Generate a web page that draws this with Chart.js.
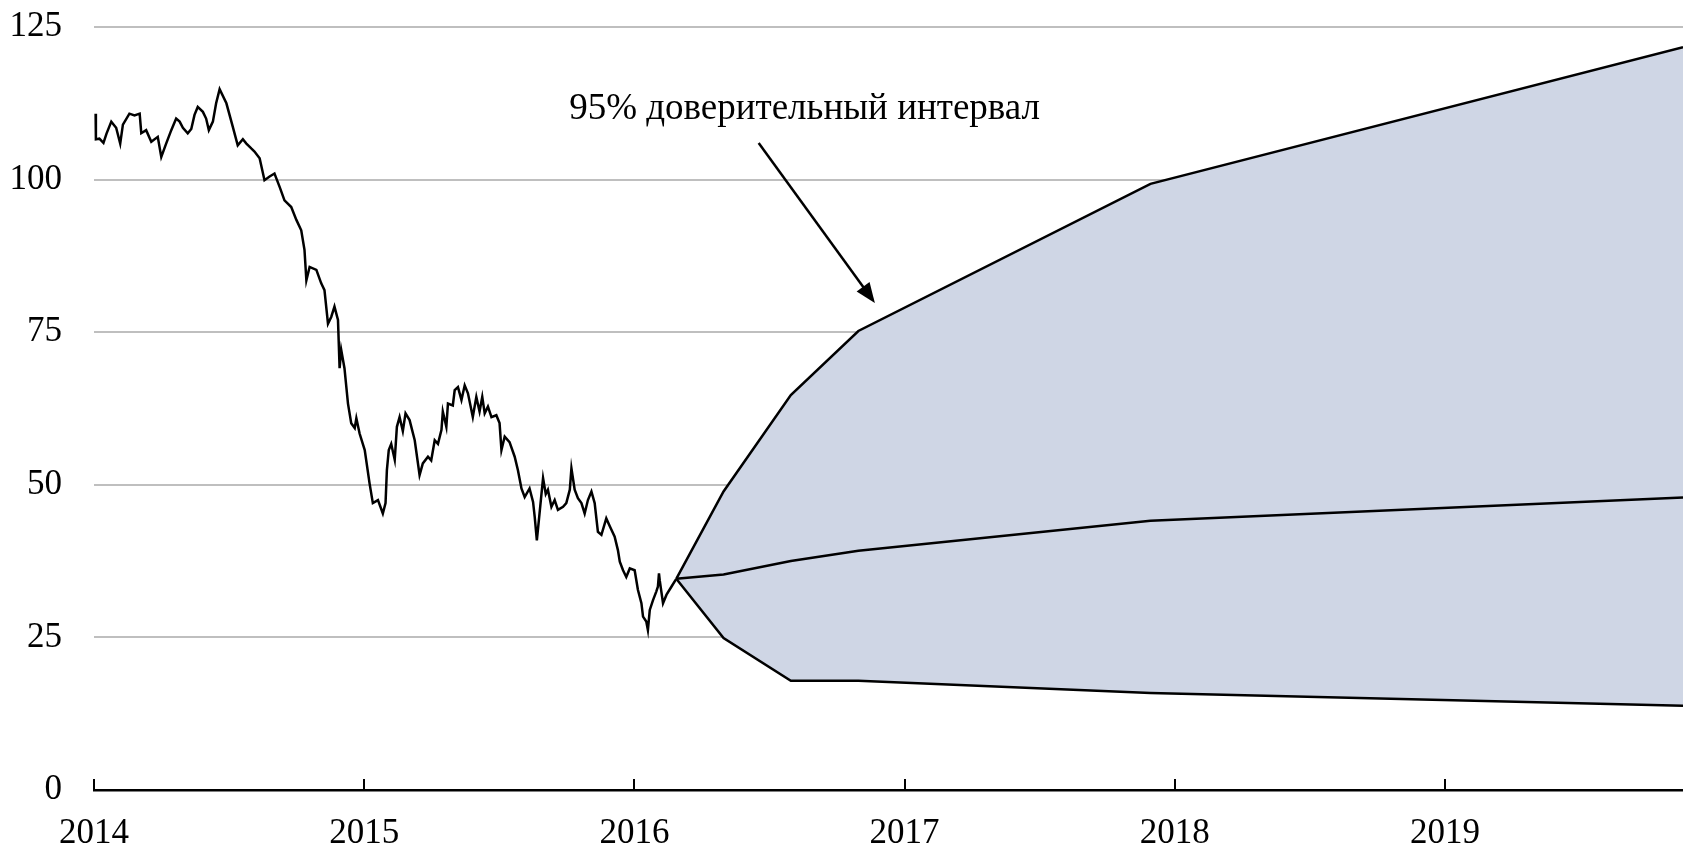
<!DOCTYPE html>
<html>
<head>
<meta charset="utf-8">
<script src="https://cdn.jsdelivr.net/npm/chart.js@4"></script>
<style>
  html, body { margin: 0; padding: 0; background: #fff; }
  #wrap { position: relative; width: 1683px; height: 849px; }
</style>
</head>
<body>
<div id="wrap"><canvas id="brent"></canvas></div>
<script>
// observed price (decimal years)
const priceYears = [
  2014.006, 2014.007, 2014.020, 2014.035, 2014.046, 2014.064, 2014.082, 2014.097, 2014.107, 2014.131,
  2014.150, 2014.169, 2014.175, 2014.193, 2014.212, 2014.236, 2014.249, 2014.267, 2014.286, 2014.304,
  2014.317, 2014.329, 2014.347, 2014.360, 2014.372, 2014.384, 2014.403, 2014.415, 2014.425, 2014.440,
  2014.452, 2014.465, 2014.490, 2014.514, 2014.532, 2014.551, 2014.564, 2014.582, 2014.594, 2014.613,
  2014.631, 2014.650, 2014.668, 2014.687, 2014.705, 2014.730, 2014.749, 2014.767, 2014.779, 2014.786,
  2014.798, 2014.823, 2014.841, 2014.853, 2014.866, 2014.878, 2014.890, 2014.903, 2014.909, 2014.915,
  2014.927, 2014.940, 2014.952, 2014.965, 2014.971, 2014.983, 2015.002, 2015.020, 2015.032, 2015.051,
  2015.069, 2015.079, 2015.084, 2015.091, 2015.100, 2015.113, 2015.121, 2015.131, 2015.143, 2015.153,
  2015.168, 2015.187, 2015.205, 2015.217, 2015.236, 2015.248, 2015.261, 2015.273, 2015.286, 2015.291,
  2015.304, 2015.310, 2015.328, 2015.335, 2015.347, 2015.360, 2015.372, 2015.384, 2015.402, 2015.415,
  2015.427, 2015.437, 2015.446, 2015.458, 2015.471, 2015.489, 2015.501, 2015.508, 2015.520, 2015.538,
  2015.557, 2015.569, 2015.582, 2015.594, 2015.612, 2015.625, 2015.631, 2015.639, 2015.649, 2015.662,
  2015.672, 2015.680, 2015.693, 2015.705, 2015.717, 2015.736, 2015.748, 2015.761, 2015.767, 2015.779,
  2015.791, 2015.804, 2015.816, 2015.828, 2015.841, 2015.853, 2015.865, 2015.878, 2015.896, 2015.909,
  2015.927, 2015.939, 2015.946, 2015.958, 2015.970, 2015.983, 2016.001, 2016.013, 2016.026, 2016.032,
  2016.044, 2016.050, 2016.057, 2016.069, 2016.081, 2016.087, 2016.091, 2016.094, 2016.106, 2016.119,
  2016.137, 2016.155,
];
const priceValues = [
  110.8, 106.6, 106.7, 106.0, 107.5, 109.5, 108.5, 105.9, 109.0, 110.8,
  110.5, 110.8, 107.6, 108.1, 106.2, 107.0, 103.7, 105.9, 108.1, 110.0,
  109.5, 108.5, 107.6, 108.3, 110.6, 111.9, 111.1, 110.0, 108.1, 109.5,
  112.5, 114.8, 112.5, 108.6, 105.6, 106.6, 105.9, 105.1, 104.6, 103.5,
  99.9, 100.5, 101.0, 98.8, 96.6, 95.5, 93.4, 91.7, 88.5, 83.5,
  85.7, 85.2, 83.0, 81.9, 76.4, 77.5, 79.2, 77.0, 69.1, 72.1,
  69.1, 63.3, 60.1, 59.3, 60.9, 58.4, 55.7, 50.2, 47.0, 47.5,
  45.3, 47.0, 52.4, 55.7, 56.7, 54.1, 59.5, 61.1, 58.8, 61.7,
  60.6, 57.3, 51.6, 53.5, 54.6, 54.0, 57.3, 56.7, 59.0, 62.0,
  59.5, 63.3, 63.0, 65.5, 66.0, 63.9, 66.3, 65.0, 61.1, 64.4,
  62.0, 64.4, 61.7, 62.8, 61.1, 61.4, 60.1, 55.7, 57.9, 57.0,
  54.6, 52.4, 49.4, 48.0, 49.4, 47.2, 44.8, 40.9, 45.3, 51.1,
  48.5, 49.2, 46.4, 47.5, 45.9, 46.4, 47.0, 49.2, 52.7, 49.2,
  47.8, 47.0, 45.3, 47.5, 48.9, 47.0, 42.3, 41.8, 44.5, 43.2,
  41.5, 39.3, 37.4, 36.0, 34.9, 36.3, 36.0, 32.8, 30.6, 28.4,
  27.6, 26.2, 29.5, 31.1, 32.5, 33.3, 35.5, 34.3, 30.6, 32.0,
  33.3, 34.6,
];

// forecast fan
const fanYears = [2016.155, 2016.330, 2016.579, 2016.829, 2017.910, 2019.881];
const fanUpper = [34.6, 48.9, 64.7, 75.2, 99.3, 121.7];
const fanMedian = [34.6, 35.3, 37.5, 39.2, 44.1, 47.9];
const fanLower = [34.6, 24.9, 17.9, 17.9, 15.9, 13.8];

const yTicks = [0, 25, 50, 75, 100, 125];
const xTicks = [2014, 2015, 2016, 2017, 2018, 2019];

// annotation, in data units
const noteText = '95% доверительный интервал';
const notePos = { x: 2016.63, y: 111.5 };
const arrowFrom = { x: 2016.46, y: 106.0 };
const arrowTo = { x: 2016.89, y: 79.8 };

const FONT = '"Liberation Serif", "DejaVu Serif", serif';

const pts = (xs, ys) => xs.map((x, i) => ({ x, y: ys[i] }));

const overlay = {
  id: 'overlay',
  afterDraw(chart) {
    const { ctx, chartArea } = chart;
    const { x, y } = chart.scales;
    ctx.save();
    // small ticks pointing up from the axis
    ctx.strokeStyle = '#000';
    ctx.lineWidth = 2;
    xTicks.forEach((v) => {
      const px = Math.round(x.getPixelForValue(v));
      ctx.beginPath();
      ctx.moveTo(px, chartArea.bottom);
      ctx.lineTo(px, chartArea.bottom - 11);
      ctx.stroke();
    });
    // label
    ctx.fillStyle = '#000';
    ctx.font = `37px ${FONT}`;
    ctx.textAlign = 'center';
    ctx.textBaseline = 'middle';
    ctx.fillText(noteText, x.getPixelForValue(notePos.x), y.getPixelForValue(notePos.y));
    // arrow
    const x0 = x.getPixelForValue(arrowFrom.x);
    const y0 = y.getPixelForValue(arrowFrom.y);
    const x1 = x.getPixelForValue(arrowTo.x);
    const y1 = y.getPixelForValue(arrowTo.y);
    const ang = Math.atan2(y1 - y0, x1 - x0);
    const head = 20;
    const half = 8;
    ctx.lineWidth = 2.5;
    ctx.beginPath();
    ctx.moveTo(x0, y0);
    ctx.lineTo(x1 - Math.cos(ang) * head * 0.8, y1 - Math.sin(ang) * head * 0.8);
    ctx.stroke();
    ctx.beginPath();
    ctx.moveTo(x1, y1);
    ctx.lineTo(x1 - head * Math.cos(ang) + half * Math.sin(ang), y1 - head * Math.sin(ang) - half * Math.cos(ang));
    ctx.lineTo(x1 - head * Math.cos(ang) - half * Math.sin(ang), y1 - head * Math.sin(ang) + half * Math.cos(ang));
    ctx.closePath();
    ctx.fill();
    ctx.restore();
  },
};

new Chart(document.getElementById('brent'), {
  type: 'line',
  data: {
    datasets: [
      {
        label: 'price',
        data: pts(priceYears, priceValues),
        borderColor: '#000',
        borderWidth: 2.5,
        pointRadius: 0,
        fill: false,
      },
      {
        label: 'upper',
        data: pts(fanYears, fanUpper),
        borderColor: '#000',
        borderWidth: 2.5,
        pointRadius: 0,
        fill: '+2',
        backgroundColor: 'rgb(207, 214, 229)',
      },
      {
        label: 'median',
        data: pts(fanYears, fanMedian),
        borderColor: '#000',
        borderWidth: 2.5,
        pointRadius: 0,
        fill: false,
      },
      {
        label: 'lower',
        data: pts(fanYears, fanLower),
        borderColor: '#000',
        borderWidth: 2.5,
        pointRadius: 0,
        fill: false,
      },
    ],
  },
  plugins: [overlay],
  options: {
    responsive: true,
    maintainAspectRatio: false,
    animation: false,
    layout: { padding: { top: 27, right: 0, left: 0, bottom: 0 } },
    plugins: {
      legend: { display: false },
      tooltip: { enabled: false },
      filler: { drawTime: 'beforeDatasetsDraw' },
    },
    scales: {
      x: {
        type: 'linear',
        min: 2014,
        max: 2019.881,
        afterFit(scale) {
          scale.height = 59;
          scale.paddingLeft = 0;
          scale.paddingRight = 0;
        },
        afterBuildTicks(scale) { scale.ticks = xTicks.map((v) => ({ value: v })); },
        border: { display: true, color: '#000', width: 2.5 },
        grid: { display: false },
        ticks: {
          color: '#000',
          font: { family: FONT, size: 35 },
          padding: 15,
          maxRotation: 0,
          autoSkip: false,
          callback: (v) => String(v),
        },
      },
      y: {
        min: 0,
        max: 125,
        afterFit(scale) {
          scale.width = 94;
          scale.paddingTop = 0;
          scale.paddingBottom = 0;
        },
        afterBuildTicks(scale) { scale.ticks = yTicks.map((v) => ({ value: v })); },
        border: { display: false },
        grid: { color: '#bfbfbf', lineWidth: 2, drawTicks: false },
        ticks: {
          color: '#000',
          font: { family: FONT, size: 35 },
          padding: 32,
          callback: (v) => String(v),
        },
      },
    },
  },
});
</script>
</body>
</html>
